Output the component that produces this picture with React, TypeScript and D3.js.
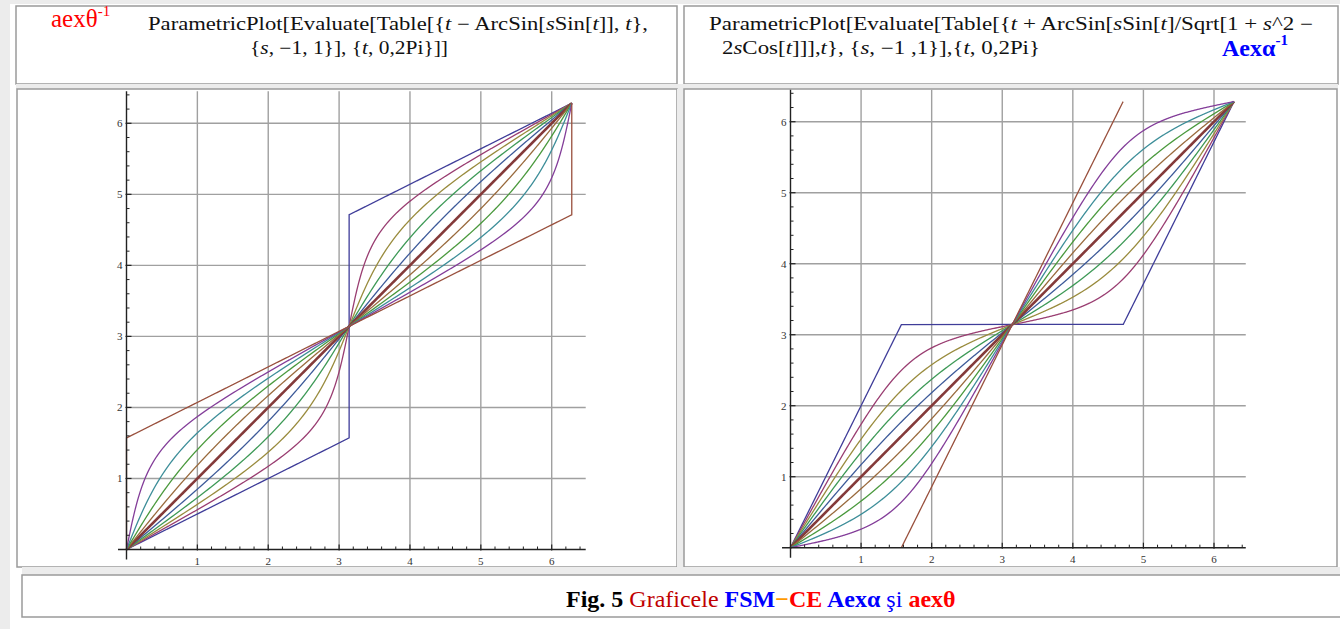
import React from 'react';
import * as d3 from 'd3';

// parameter values of the 11 curves (s from -1 to 1) and their colours
const sValues = [-1, -0.8, -0.6, -0.4, -0.2, 0, 0.2, 0.4, 0.6, 0.8, 1];
const curveColors = ['#3f3d99', '#993d71', '#998b3d', '#3d9956', '#3d5a99', '#843a3a',
  '#996a3d', '#4a993d', '#3d8e99', '#833d99', '#99503d'];
const tickLabels = [1, 2, 3, 4, 5, 6];
const tSamples = d3.range(0, 1201).map(i => (i / 1200) * 2 * Math.PI);

// x(t) for both panels, as in the ParametricPlot titles
const leftFn = (s: number, t: number) => t - Math.asin(s * Math.sin(t));
const rightFn = (s: number, t: number) => {
  const d = Math.sqrt(1 + s * s - 2 * s * Math.cos(t));
  const a = Math.max(-1, Math.min(1, (s * Math.sin(t)) / d));
  return t + Math.asin(a);
};

const SERIF = '"Liberation Serif", "Times New Roman", serif';

type PlotProps = {
  fn: (s: number, t: number) => number;
  xRange: [number, number];
  yRange: [number, number];
  xMin: number; xMax: number; yMin: number; yMax: number;
};

function Plot({fn, xRange, yRange, xMin, xMax, yMin, yMax}: PlotProps) {
  const x = d3.scaleLinear().domain([0, 6]).range(xRange);
  const y = d3.scaleLinear().domain([0, 6]).range(yRange);
  const line = d3.line<[number, number]>().x(d => x(d[0])).y(d => y(d[1]));

  const minorX = d3.range(1, Math.floor(xMax / 0.2) + 1).map(i => i * 0.2)
    .filter(v => Math.abs(v - Math.round(v)) > 0.01);
  const minorY = d3.range(1, Math.floor(yMax / 0.2) + 1).map(i => i * 0.2)
    .filter(v => Math.abs(v - Math.round(v)) > 0.01);

  return (
    <g>
      {tickLabels.map(v => (
        <g key={'g' + v}>
          <line x1={x(v)} x2={x(v)} y1={y(0)} y2={y(yMax)} stroke="#a0a0a0" strokeWidth={1.4}/>
          <line x1={x(0)} x2={x(xMax)} y1={y(v)} y2={y(v)} stroke="#a0a0a0" strokeWidth={1.4}/>
        </g>
      ))}
      {sValues.map((s, i) => {
        const pts = tSamples.map(t => [fn(s, t), t] as [number, number])
          .filter(p => isFinite(p[0]));
        return <path key={s} d={line(pts) || ''} fill="none" stroke={curveColors[i]}
          strokeWidth={s === 0 ? 2.6 : 1.3}/>;
      })}
      <line x1={x(xMin)} x2={x(xMax)} y1={y(0)} y2={y(0)} stroke="#222" strokeWidth={1.4}/>
      <line x1={x(0)} x2={x(0)} y1={y(yMin)} y2={y(yMax)} stroke="#222" strokeWidth={1.4}/>
      {minorX.map(v => <line key={'mx' + v} x1={x(v)} x2={x(v)} y1={y(0)} y2={y(0) - 3} stroke="#222"/>)}
      {minorY.map(v => <line key={'my' + v} x1={x(0)} x2={x(0) + 3} y1={y(v)} y2={y(v)} stroke="#222"/>)}
      {tickLabels.map(v => (
        <g key={'t' + v}>
          <line x1={x(v)} x2={x(v)} y1={y(0) + 1} y2={y(0) - 5} stroke="#222" strokeWidth={1.2}/>
          <line x1={x(0) - 1} x2={x(0) + 5} y1={y(v)} y2={y(v)} stroke="#222" strokeWidth={1.2}/>
          <text x={x(v)} y={y(0) + 15} textAnchor="middle" fontSize={11} fontFamily={SERIF} fill="#333">{v}</text>
          <text x={x(0) - 4} y={y(v) + 4} textAnchor="end" fontSize={11} fontFamily={SERIF} fill="#333">{v}</text>
        </g>
      ))}
    </g>
  );
}

export default function App() {
  return (
    <svg width={1340} height={629} style={{position: 'absolute', left: 0, top: 0}}>
      <rect x={0} y={0} width={1340} height={629} fill="#ececec"/>
      <rect x={10} y={4} width={1330} height={625} fill="#ffffff"/>

      {/* title boxes */}
      <rect x={16} y={6} width={661} height={78} fill="#fff" stroke="#9a9a9a" strokeWidth={1.5}/>
      <rect x={684} y={6} width={654} height={78} fill="#fff" stroke="#9a9a9a" strokeWidth={1.5}/>
      <rect x={16} y={84} width={1322} height={5} fill="#ececec"/>

      {/* plot panels */}
      <rect x={17} y={89} width={660} height={478} fill="#fff" stroke="#9a9a9a" strokeWidth={1.5}/>
      <rect x={677} y={89} width={7} height={478} fill="#ececec"/>
      <rect x={684} y={89} width={653} height={478} fill="#fff" stroke="#9a9a9a" strokeWidth={1.5}/>

      <text x={51} y={27} fontSize={25} fontFamily={SERIF} fill="#ff0000">aexθ<tspan dy={-11} fontSize={15}>-1</tspan></text>
      <text x={148} y={30} fontSize={18} fontFamily={SERIF} fill="#111" textLength={500} lengthAdjust="spacingAndGlyphs">
        ParametricPlot[Evaluate[Table[{'{'}<tspan fontStyle="italic">t</tspan> − ArcSin[<tspan fontStyle="italic">s</tspan>Sin[<tspan fontStyle="italic">t</tspan>]], <tspan fontStyle="italic">t</tspan>{'}'},
      </text>
      <text x={250} y={54} fontSize={18} fontFamily={SERIF} fill="#111" textLength={198} lengthAdjust="spacingAndGlyphs">
        {'{'}<tspan fontStyle="italic">s</tspan>, −1, 1{'}'}], {'{'}<tspan fontStyle="italic">t</tspan>, 0,2Pi{'}'}]]
      </text>

      <text x={709} y={30} fontSize={18} fontFamily={SERIF} fill="#111" textLength={604} lengthAdjust="spacingAndGlyphs">
        ParametricPlot[Evaluate[Table[{'{'}<tspan fontStyle="italic">t</tspan> + ArcSin[<tspan fontStyle="italic">s</tspan>Sin[<tspan fontStyle="italic">t</tspan>]/Sqrt[1 + <tspan fontStyle="italic">s</tspan>^2 −
      </text>
      <text x={722} y={54} fontSize={18} fontFamily={SERIF} fill="#111" textLength={318} lengthAdjust="spacingAndGlyphs">
        2<tspan fontStyle="italic">s</tspan>Cos[<tspan fontStyle="italic">t</tspan>]]],<tspan fontStyle="italic">t</tspan>{'}'},  {'{'}<tspan fontStyle="italic">s</tspan>, −1 ,1{'}'}],{'{'}<tspan fontStyle="italic">t</tspan>, 0,2Pi{'}'}
      </text>
      <text x={1222} y={56} fontSize={24} fontWeight="bold" fontFamily={SERIF} fill="#0000ff">Aexα<tspan dy={-11} fontSize={15}>-1</tspan></text>

      <Plot fn={leftFn} xRange={[126.5, 551.7]} yRange={[549.5, 123.3]} xMin={-0.12} xMax={6.48} yMin={-0.14} yMax={6.45}/>
      <Plot fn={rightFn} xRange={[790.5, 1214]} yRange={[547.7, 121.7]} xMin={-0.12} xMax={6.45} yMin={-0.14} yMax={6.45}/>

      {/* caption */}
      <rect x={22} y={567} width={1318} height={8} fill="#ececec"/>
      <rect x={22} y={575} width={1320} height={42} fill="#fff" stroke="#9a9a9a" strokeWidth={1.5}/>
      <text x={566} y={607} fontSize={24} fontFamily={SERIF}>
        <tspan fontWeight="bold" fill="#000">Fig. 5 </tspan>
        <tspan fill="#c00000">Graficele </tspan>
        <tspan fontWeight="bold" fill="#0000ff">FSM</tspan>
        <tspan fontWeight="bold" fill="#ff9900">−</tspan>
        <tspan fontWeight="bold" fill="#ff0000">CE </tspan>
        <tspan fontWeight="bold" fill="#0000ff">Aexα </tspan>
        <tspan fill="#0000ff">şi </tspan>
        <tspan fontWeight="bold" fill="#ff0000">aexθ</tspan>
      </text>
    </svg>
  );
}
